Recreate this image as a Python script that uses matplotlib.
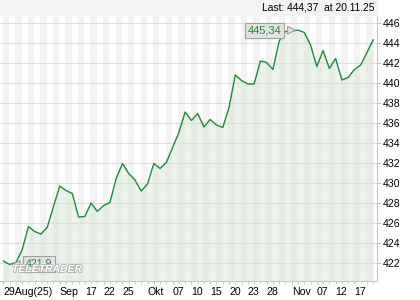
import matplotlib
matplotlib.use("Agg")
import matplotlib.pyplot as plt
import matplotlib.patheffects as pe
import numpy as np

# Closing values, one per trading day (29 Aug 2025 .. 20 Nov 2025)
closes = [422.25, 421.9, 422.1, 423.35, 425.7, 425.2, 424.95, 425.6, 427.7, 429.75,
          429.3, 429.0, 426.65, 426.7, 428.05, 427.2, 427.8, 428.1, 430.5, 432.0,
          431.0, 430.35, 429.25, 429.95, 432.0, 431.5, 432.1, 433.6, 435.1, 437.15,
          436.3, 437.0, 435.65, 436.4, 435.85, 435.6, 437.6, 440.85, 440.3, 439.95,
          439.95, 442.25, 442.1, 441.4, 444.25, 445.2, 445.25, 445.34, 445.1, 443.85,
          441.7, 443.3, 441.5, 442.5, 440.35, 440.6, 441.4, 441.85, 443.1, 444.37]

# x tick labels (trading day index -> label)
tick_idx = [0, 9, 13, 16, 19, 23, 27, 30, 33, 36, 39, 42, 46, 50, 53, 56]
tick_lbl = ["29Aug(25)", "Sep", "17", "22", "25", "Okt", "07", "10", "15",
            "20", "23", "28", "Nov", "07", "12", "17"]
y_ticks = [422, 424, 426, 428, 430, 432, 434, 436, 438, 440, 442, 444, 446]

hi_idx, hi_txt = 47, "445,34"
lo_idx, lo_txt = 1, "421,9"
last_txt = "Last: 444,37  at 20.11.25"

plt.rcParams["font.family"] = ["Liberation Sans", "DejaVu Sans"]

W, H = 420, 300
fig = plt.figure(figsize=(W / 100, H / 100), dpi=100)
fig.patch.set_facecolor("white")

# plot box in pixels: x 0..377, y 15..281
ax = fig.add_axes([0 / W, (H - 281) / H, 377 / W, (281 - 15) / H])
ax.set_facecolor("white")

x = np.arange(len(closes))
xmin, xmax = -0.53, 59.6
ymin, ymax = 420.25, 446.85

# header band
fig.patches.append(plt.Rectangle((0, (H - 15) / H), 377 / W, 15 / H,
                                 transform=fig.transFigure, color="#f4f4f4", zorder=0))
fig.text(374 / W, (H - 7.5) / H, last_txt, ha="right", va="center",
         fontsize=7.4, color="black")

# daily stripes
for i in range(0, len(closes) + 1, 2):
    ax.axvspan(i - 0.1, i + 0.9, color="#f3f3f3", lw=0, zorder=0)

# horizontal grid
for v in y_ticks:
    ax.axhline(v, color="#dedede", lw=0.8, zorder=2)

ax.fill_between(x, closes, ymin, color="#cfe3cf", alpha=0.4, lw=0, zorder=1)
ax.plot(x, closes, color="#1f8a3c", lw=1.0, zorder=3)

ax.set_xlim(xmin, xmax)
ax.set_ylim(ymin, ymax)

# axes
for s in ["top", "left"]:
    ax.spines[s].set_visible(False)
for s in ["right", "bottom"]:
    ax.spines[s].set_color("#c8c8c8")
    ax.spines[s].set_linewidth(0.8)

ax.yaxis.tick_right()
ax.set_yticks(y_ticks)
ax.set_yticklabels([str(v) for v in y_ticks])
ax.tick_params(axis="y", length=3, color="#c8c8c8", labelsize=7.6, pad=1,
               labelcolor="black")

ax.set_xticks(tick_idx)
ax.set_xticklabels(tick_lbl)
ax.set_xticks(x, minor=True)
ax.tick_params(axis="x", which="both", length=2.5, color="#c8c8c8", labelsize=7.6,
               pad=2, labelcolor="black")
for t in ax.get_xticklabels():
    t.set_horizontalalignment("left")
    t.set_x(0)

# high / low labels
box = dict(boxstyle="square,pad=0.25", fc="#e2e2e2", ec="#a0a0a0", lw=0.8)
arr = dict(arrowstyle="wedge,tail_width=0.7,shrink_factor=0.5", fc="#e2e2e2",
           ec="#a0a0a0", lw=0.8)
ax.annotate(hi_txt, xy=(hi_idx, closes[hi_idx]), xytext=(41.7, 445.3),
            ha="center", va="center", fontsize=8, color="#1f8a3c",
            bbox=box, arrowprops=arr, zorder=5)
ax.annotate(lo_txt, xy=(lo_idx, closes[lo_idx]), xytext=(5.7, 421.95),
            ha="center", va="center", fontsize=7.6, color="#1f8a3c",
            bbox=box, arrowprops=arr, zorder=5)

# watermark
ax.text(12 / 377 , (281 - 269) / 266, "TELETRADER", transform=ax.transAxes,
        ha="left", va="center", fontsize=7.5, fontweight="bold", fontstyle="italic",
        color="white", zorder=6,
        path_effects=[pe.withStroke(linewidth=1.2, foreground="#b0b0b0")])

fig.savefig("out.png", dpi=100)
